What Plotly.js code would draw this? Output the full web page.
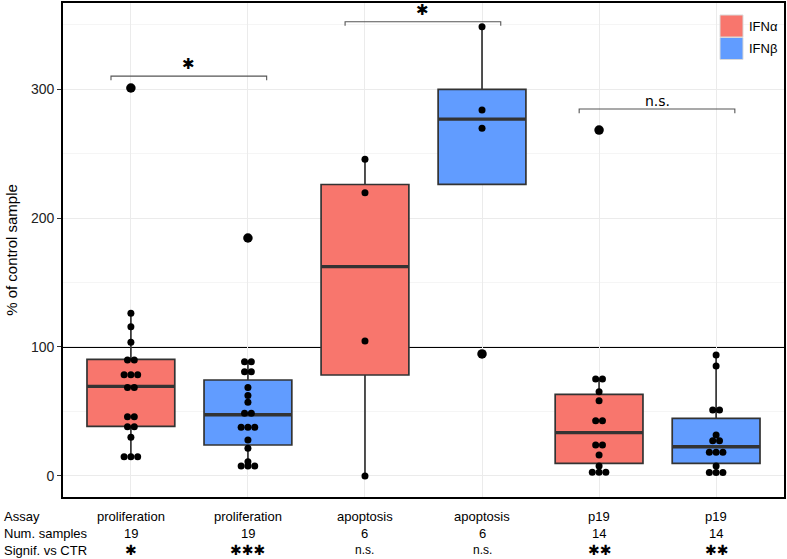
<!DOCTYPE html>
<html>
<head>
<meta charset="utf-8">
<script src="https://cdn.plot.ly/plotly-3.0.1.min.js"></script>
<style>html,body{margin:0;padding:0;background:#fff;}#chart{width:787px;height:559px;}</style>
</head>
<body>
<div id="chart"></div>
<script>
// ---- data ----
const positions = [1, 2, 3, 4, 5, 6];
const assay = ['proliferation', 'proliferation', 'apoptosis', 'apoptosis', 'p19', 'p19'];
const numSamples = ['19', '19', '6', '6', '14', '14'];
const signif = ['*', '***', 'n.s.', 'n.s.', '**', '**'];
const treatment = ['IFNα', 'IFNβ', 'IFNα', 'IFNβ', 'IFNα', 'IFNβ'];

// box statistics per group
const q1Vals = [38.5, 24.0, 78.3, 226.1, 9.8, 9.8];
const medianVals = [69.5, 47.5, 162.3, 276.7, 33.6, 22.7];
const q3Vals = [90.4, 74.4, 226.0, 299.7, 63.3, 44.7];
const lowerWhisker = [15.0, 7.8, 0.0, 226.1, 2.9, 2.6];
const upperWhisker = [126.1, 88.6, 245.5, 348.3, 75.2, 93.8];

// individual samples (dot plot)
const dotsProlifA = [126.1, 115.7, 103.6, 89.9, 89.9, 78.5, 78.5, 78.5, 68.5, 68.5, 46.0, 46.0, 38.2, 38.2, 30.0, 15.0, 15.0, 15.0];
const dotsProlifB = [88.6, 88.6, 80.9, 80.9, 68.5, 62.3, 57.1, 48.6, 48.6, 37.7, 37.7, 37.7, 27.9, 21.4, 11.1, 7.8, 7.8, 7.8];
const dotsApopA = [245.5, 219.6, 104.7, 0.0];
const dotsApopB = [348.3, 283.7, 269.5];
const dotsP19A = [75.2, 75.2, 65.3, 58.4, 42.9, 42.9, 24.0, 24.0, 16.3, 7.8, 2.9, 2.9, 2.9];
const dotsP19B = [93.8, 85.3, 51.2, 51.2, 31.8, 27.4, 27.4, 18.3, 18.3, 18.3, 7.8, 2.6, 2.6, 2.6];

// outliers (large points)
const outlierVals = [[300.8], [184.5], [], [94.6], [268.2], []];

// significance between IFNα and IFNβ per assay
const bracketLeft = [1, 3, 5];
const bracketRight = [2, 4, 6];
const bracketY = [310, 352.2, 284.5];
const bracketLabel = ['*', '*', 'n.s.'];

const refLine = 100;

// ---- styling ----
const colA = '#F8766D', colB = '#619CFF';
const boxW = 0.75;
const dotStep = 0.058;
const allDots = [dotsProlifA, dotsProlifB, dotsApopA, dotsApopB, dotsP19A, dotsP19B];
const starGlyph = s => s.replace(/\*/g, '✱');

const traces = [];
function boxTrace(idx, col, name) {
  return {
    type: 'box', name: name, showlegend: false,
    x: idx.map(i => positions[i]),
    q1: idx.map(i => q1Vals[i]),
    median: idx.map(i => medianVals[i]),
    q3: idx.map(i => q3Vals[i]),
    lowerfence: idx.map(i => lowerWhisker[i]),
    upperfence: idx.map(i => upperWhisker[i]),
    width: boxW, whiskerwidth: 0, boxpoints: false,
    fillcolor: col, line: {color: '#333333', width: 1.7},
    hoverinfo: 'skip'
  };
}
traces.push(boxTrace([0, 2, 4], colA, 'IFNα'));
traces.push(boxTrace([1, 3, 5], colB, 'IFNβ'));

// thick median lines
const mx = [], my = [];
positions.forEach((p, i) => { mx.push(p - boxW / 2, p + boxW / 2, null); my.push(medianVals[i], medianVals[i], null); });
traces.push({type: 'scatter', mode: 'lines', x: mx, y: my, line: {color: '#333333', width: 3.4}, showlegend: false, hoverinfo: 'skip'});

// outliers
const ox = [], oy = [];
outlierVals.forEach((arr, i) => arr.forEach(v => { ox.push(positions[i]); oy.push(v); }));
traces.push({type: 'scatter', mode: 'markers', x: ox, y: oy, marker: {color: '#000', size: 9.5}, showlegend: false, hoverinfo: 'skip'});

// dots: identical values stacked side by side, centred
const dx = [], dy = [];
allDots.forEach((arr, i) => {
  const counts = {};
  arr.forEach(v => { counts[v] = (counts[v] || 0) + 1; });
  Object.keys(counts).forEach(k => {
    const n = counts[k];
    for (let j = 0; j < n; j++) { dx.push(positions[i] + (j - (n - 1) / 2) * dotStep); dy.push(parseFloat(k)); }
  });
});
traces.push({type: 'scatter', mode: 'markers', x: dx, y: dy, marker: {color: '#000', size: 7}, showlegend: false, hoverinfo: 'skip'});

// ---- shapes & annotations ----
const shapes = [{type: 'line', xref: 'paper', x0: 0, x1: 1, yref: 'y', y0: refLine, y1: refLine, line: {color: '#000', width: 1.8}, layer: 'below'}];
const annotations = [];
const tick = 3.2;
bracketLeft.forEach((l, i) => {
  const x0 = l - 0.17, x1 = bracketRight[i] + 0.16, y = bracketY[i];
  shapes.push({type: 'path', xref: 'x', yref: 'y', path: `M${x0},${y - tick} L${x0},${y} L${x1},${y} L${x1},${y - tick}`, line: {color: '#555', width: 1.1}});
  const isStar = bracketLabel[i] === '*';
  annotations.push({xref: 'x', yref: 'y', x: (x0 + x1) / 2, y: y, text: isStar ? starGlyph(bracketLabel[i]) : bracketLabel[i], showarrow: false, yanchor: 'bottom', yshift: isStar ? 1 : -2, font: {family: 'DejaVu Sans, sans-serif', size: isStar ? 15 : 14, color: '#000'}});
});

// table below the plot
const rowY = [-0.0385, -0.0729, -0.1073];
const rowNames = ['Assay', 'Num. samples', 'Signif. vs CTR'];
rowNames.forEach((t, r) => annotations.push({xref: 'paper', yref: 'paper', x: -0.0846, y: rowY[r], xanchor: 'left', yanchor: 'middle', text: t, showarrow: false, font: {size: 13, color: '#000'}}));
positions.forEach((p, i) => {
  annotations.push({xref: 'x', yref: 'paper', x: p, y: rowY[0], text: assay[i], showarrow: false, yanchor: 'middle', font: {size: 13, color: '#000'}});
  annotations.push({xref: 'x', yref: 'paper', x: p, y: rowY[1], text: numSamples[i], showarrow: false, yanchor: 'middle', font: {size: 13, color: '#000'}});
  const star = signif[i] !== 'n.s.';
  annotations.push({xref: 'x', yref: 'paper', x: p, y: rowY[2], text: star ? starGlyph(signif[i]) : signif[i], showarrow: false, yanchor: 'middle', font: star ? {family: 'DejaVu Sans, sans-serif', size: 14, color: '#000'} : {size: 12, color: '#000'}});
});

// manual legend
const legendCols = [colA, colB];
const legendNames = ['IFNα', 'IFNβ'];
const plotL = 63, plotW = 721, plotB = 497, plotH = 494;
const px = v => (v - plotL) / plotW, py = v => (plotB - v) / plotH;
legendNames.forEach((n, i) => {
  const top = 15 + i * 22.5;
  shapes.push({type: 'rect', xref: 'paper', yref: 'paper', x0: px(720), x1: px(743), y0: py(top + 22), y1: py(top), fillcolor: legendCols[i], line: {color: '#d9d9d9', width: 1}});
  annotations.push({xref: 'paper', yref: 'paper', x: px(747), y: py(top + 11), text: n, showarrow: false, xanchor: 'left', yanchor: 'middle', font: {size: 13, color: '#000'}});
});

const layout = {
  width: 787, height: 559,
  margin: {l: 63, r: 3, t: 3, b: 62},
  paper_bgcolor: '#fff', plot_bgcolor: '#fff',
  font: {family: 'Liberation Sans, Arial, sans-serif', color: '#000'},
  showlegend: false,
  boxmode: 'overlay',
  xaxis: {range: [0.42, 6.58], tickvals: positions, showticklabels: false, ticks: '', showgrid: true, gridcolor: '#EBEBEB', gridwidth: 1, zeroline: false, showline: true, mirror: true, linecolor: '#000', linewidth: 1.8},
  yaxis: {range: [-16.3, 366.7], tickvals: [0, 100, 200, 300], ticks: 'outside', ticklen: 4, tickcolor: '#333', tickfont: {size: 14, color: '#222'}, showgrid: true, gridcolor: '#EBEBEB', gridwidth: 1, zeroline: false, showline: true, mirror: true, linecolor: '#000', linewidth: 1.8,
    minor: {tickvals: [50, 150, 250, 350], showgrid: true, gridcolor: '#F5F5F5', gridwidth: 1, ticks: ''},
    title: {text: '% of control sample', font: {size: 15, color: '#000'}, standoff: 10}},
  shapes: shapes,
  annotations: annotations
};

Plotly.newPlot('chart', traces, layout, {displayModeBar: false, staticPlot: true});
</script>
</body>
</html>
